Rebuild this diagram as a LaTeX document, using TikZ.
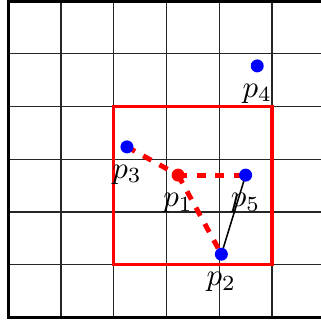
\documentclass[tikz,border=0pt]{standalone}
\pgfdeclarelayer{background}
\pgfsetlayers{background,main}
\begin{document}
\begin{tikzpicture}[scale=0.6,
  pt/.style={circle,fill=blue,inner sep=0pt,minimum size=4.2pt},
  ptred/.style={pt,fill=red},
  gridline/.style={black!85,line width=0.4pt},
  border/.style={black,line width=1.1pt},
  region/.style={red,line width=1.1pt},
  redlink/.style={red,dashed,line width=1.6pt},
  blacklink/.style={black,line width=0.5pt}]
\useasboundingbox (-0.157,-0.085) rectangle (5.92,6.02);
\clip (-0.157,-0.085) rectangle (5.92,6.02);
\begin{pgfonlayer}{background}
\draw[gridline] (0,0) grid (6,6);
\draw[border] (0,0) rectangle (6,6);
\draw[region] (2,1) rectangle (5,4);
\end{pgfonlayer}
\node[ptred,label=below:$p_1$] (p1) at (3.22,2.70) {};
\node[pt,label=below:$p_2$] (p2) at (4.04,1.20) {};
\node[pt,label=below:$p_3$] (p3) at (2.25,3.235) {};
\node[pt,label=below:$p_4$] (p4) at (4.72,4.77) {};
\node[pt,label=below:$p_5$] (p5) at (4.50,2.70) {};
\begin{pgfonlayer}{background}
\draw[redlink] (p3.center) -- (p1.center);
\draw[redlink] (p1.center) -- (p5.center);
\draw[redlink] (p1.center) -- (p2.center);
\draw[blacklink] (p5.center) -- (p2.center);
\end{pgfonlayer}
\end{tikzpicture}
\end{document}
